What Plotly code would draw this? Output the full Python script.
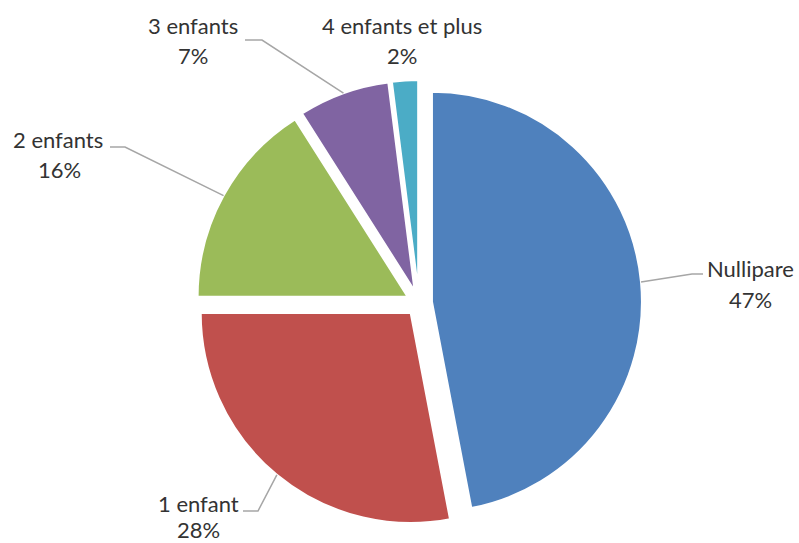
import math
import plotly.graph_objects as go

# Répartition des femmes selon le nombre d'enfants (en %)
categories = ["Nullipare", "1 enfant", "2 enfants", "3 enfants", "4 enfants et plus"]
values = [47, 28, 16, 7, 2]
colors = ["#4F81BD", "#C0504D", "#9BBB59", "#8064A2", "#4BACC6"]

W, H = 799, 543
PULL = 0.062
DOM_X = [0.2453, 0.8035]
DOM_Y = [0.0313, 0.8527]

# label placement (pixel space): name centre, percent centre, leader elbow, leader end
LABEL_POS = [
    dict(name=(750, 268), pct=(750, 299), elbow=(692, 274), end=(703, 274)),
    dict(name=(198, 503), pct=(198, 529), elbow=(258, 511), end=(243, 511)),
    dict(name=(58, 139), pct=(59, 169), elbow=(125, 147), end=(110, 147)),
    dict(name=(193, 26), pct=(193, 56), elbow=(262, 40), end=(245, 40)),
    dict(name=(402, 26), pct=(402, 56), elbow=None, end=None),
]

TEXT_COLOR = "#333333"
FONT = dict(family="Lato, 'Open Sans', sans-serif", size=22, color=TEXT_COLOR)

fig = go.Figure(
    go.Pie(
        labels=categories,
        values=values,
        sort=False,
        direction="clockwise",
        rotation=0,
        pull=[PULL] * len(values),
        marker=dict(colors=colors, line=dict(color="white", width=2)),
        textinfo="none",
        hoverinfo="label+percent",
        showlegend=False,
        domain=dict(x=DOM_X, y=DOM_Y),
    )
)

# pie geometry in pixels, following the way plotly sizes a pulled pie
cx = (DOM_X[0] + DOM_X[1]) / 2 * W
cy = (1 - (DOM_Y[0] + DOM_Y[1]) / 2) * H
r = min((DOM_X[1] - DOM_X[0]) * W, (DOM_Y[1] - DOM_Y[0]) * H) / (2 * (1 + PULL))


def to_paper(px, py):
    return px / W, 1 - py / H


total = sum(values)
cum = 0.0
annotations = []
shapes = []
for cat, val, pos in zip(categories, values, LABEL_POS):
    mid = (cum + val / 2) / total * 2 * math.pi
    cum += val
    # outer edge of the exploded slice at its mid angle
    ex = cx + r * (1 + PULL) * math.sin(mid)
    ey = cy - r * (1 + PULL) * math.cos(mid)

    if pos["elbow"] is not None:
        p0 = to_paper(ex, ey)
        p1 = to_paper(*pos["elbow"])
        p2 = to_paper(*pos["end"])
        shapes.append(dict(
            type="path", xref="paper", yref="paper",
            path=f"M {p0[0]},{p0[1]} L {p1[0]},{p1[1]} L {p2[0]},{p2[1]}",
            line=dict(color="#A6A6A6", width=1.5),
        ))

    nx, ny = to_paper(*pos["name"])
    qx, qy = to_paper(*pos["pct"])
    annotations.append(dict(x=nx, y=ny, xref="paper", yref="paper", text=cat,
                            showarrow=False, xanchor="center", yanchor="middle", font=FONT))
    annotations.append(dict(x=qx, y=qy, xref="paper", yref="paper", text=f"{val}%",
                            showarrow=False, xanchor="center", yanchor="middle", font=FONT))

fig.update_layout(
    width=W,
    height=H,
    margin=dict(l=0, r=0, t=0, b=0),
    paper_bgcolor="white",
    plot_bgcolor="white",
    annotations=annotations,
    shapes=shapes,
)

fig.write_html("out.html")
